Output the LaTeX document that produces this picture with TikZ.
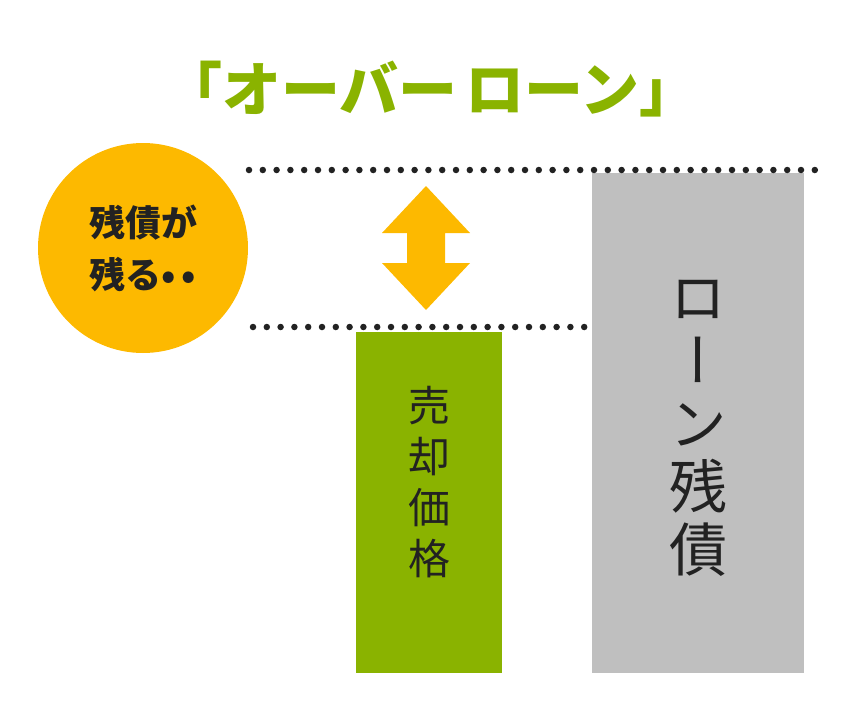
\documentclass[tikz,border=0pt]{standalone}
\usepackage{fontspec}
\setmainfont{Noto Sans CJK JP}
\newfontfamily\jpvert[RawFeature=+vert]{Noto Sans CJK JP}
\usepackage{tikz}
\usetikzlibrary{
	positioning,
	calc
}
\definecolor{LeafGreen}{RGB}{138,179,0}
\definecolor{SunOrange}{RGB}{253,185,0}
\definecolor{LoanGray}{RGB}{191,191,191}
\definecolor{InkDark}{RGB}{34,34,34}

\begin{document}
\begin{tikzpicture}[
				x=1pt,
				y=-1pt,
				dotline/.style={
					InkDark,
					line width=6.5pt,
					line cap=round,
					dash pattern=on 0pt off 13.8pt
				},
				barbox/.style={
					inner sep=0pt,
					outer sep=0pt
				}
				]
				
				\useasboundingbox (0,0) rectangle (864,720);
				
				% title
				\node[
				LeafGreen,
				font=\fontsize{59}{62}\selectfont\bfseries
				] (title) at (431,89) {「オーバー\hspace{8pt}ローン」};
				
				% circle
				\node[
				circle,
				fill=SunOrange,
				minimum size=210pt,
				inner sep=0pt,
				align=left,
				text=InkDark,
				font=\fontsize{36}{52}\selectfont\bfseries
				] (remain) at (143,248) {残債が\\残る•\hspace{6pt}•};
				
				% bars
				\node[
				barbox,
				fill=LeafGreen,
				minimum width=146pt,
				minimum height=341pt
				] (sale) at (429,502.5) {};
				
				\node[
				barbox,
				fill=LoanGray,
				minimum width=212pt,
				minimum height=500pt
				] (loan) at (698,423) {};
				
				\node[
				align=center,
				text=InkDark,
				font=\fontsize{42}{51}\selectfont
				] (saletext) at ([yshift=20pt]sale.center) {売\\却\\価\\格};
				
				\node[
				align=center,
				text=InkDark,
				font=\jpvert\fontsize{58}{63}\selectfont
				] (loantext) at ([yshift=-5pt]loan.center) {ロ\\ー\\ン\\残\\債};
				
				% dotted guides
				\coordinate (topL) at (249,170);
				\coordinate (topR) at (815,170);
				\coordinate (lowL) at (253,327);
				\coordinate (lowR) at (586,327);
				
				\draw[dotline] (topL) -- (topR);
				\draw[dotline] (lowL) -- (lowR);
				
				% double arrow
				\fill[SunOrange]
				(426,186) -- (470,233) -- (445,233) -- (445,263) -- (470,263) --
				(426,310) -- (382,263) -- (407,263) -- (407,233) -- (382,233) -- cycle;
				
			\end{tikzpicture}
\end{document}
